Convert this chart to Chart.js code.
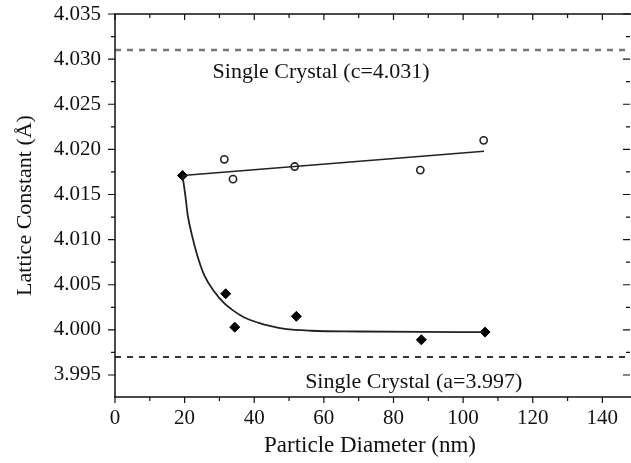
<!DOCTYPE html>
<html>
<head>
<meta charset="utf-8">
<script src="https://cdn.jsdelivr.net/npm/chart.js@4/dist/chart.umd.min.js"></script>
<style>
  html, body { margin: 0; padding: 0; background: #fff; overflow: hidden; }
  #wrap { width: 631px; height: 463px; }
  canvas { display: block; }
</style>
</head>
<body>
<div id="wrap"><canvas id="c" width="631" height="463"></canvas></div>
<script>
// measured points (particle diameter nm, lattice constant Å)
const cDiam = [31.4, 33.9, 51.6, 87.7, 105.9];
const cVals = [4.0189, 4.0167, 4.0181, 4.0177, 4.0210];
const aDiam = [19.4, 31.8, 34.4, 52.1, 88.0, 106.3];
const aVals = [4.0171, 4.0040, 4.0003, 4.0015, 3.9989, 3.99975];

// fitted lines
const cFitDiam = [19.4, 106];
const cFitVals = [4.0171, 4.0198];
const aFitDiam = [19.4, 20.2, 20.9, 22.1, 23.6, 25.7, 28.6, 31.5, 33.4, 37.0, 41.1, 44.8, 48.8, 56.4, 70, 88, 106];
const aFitVals = [4.0171, 4.0149, 4.0127, 4.0105, 4.0083, 4.0060, 4.0042, 4.0029, 4.0023, 4.0014, 4.0008, 4.0004, 4.0001, 3.9999, 3.99982, 3.99977, 3.99975];

// single crystal references
const cSingle = 4.031;
const aSingle = 3.997;

// axis ticks
const xTicks = [0, 20, 40, 60, 80, 100, 120, 140];
const xMinor = [10, 30, 50, 70, 90, 110, 130];
const yTicks = [3.995, 4.000, 4.005, 4.010, 4.015, 4.020, 4.025, 4.030, 4.035];
const yMinor = [3.9975, 4.0025, 4.0075, 4.0125, 4.0175, 4.0225, 4.0275, 4.0325];

const xMax = 146.5;
const lineEnd = 148.5; // dashed lines run on to the picture edge
const serif = "'Liberation Serif', 'DejaVu Serif', serif";

const pts = (xs, ys) => xs.map((x, i) => ({ x: x, y: ys[i] }));

// frame, ticks and text labels
const framePlugin = {
  id: 'frame',
  afterDraw(chart) {
    const ctx = chart.ctx;
    const xs = chart.scales.x, ys = chart.scales.y;
    const a = chart.chartArea;
    const right = 630;
    ctx.save();
    ctx.strokeStyle = '#111';
    ctx.lineWidth = 1.5;
    ctx.beginPath();
    ctx.moveTo(a.left, a.top); ctx.lineTo(a.left, a.bottom);
    ctx.moveTo(a.left - 1, a.bottom); ctx.lineTo(chart.width, a.bottom);
    ctx.moveTo(a.left - 1, a.top); ctx.lineTo(chart.width, a.top);
    ctx.stroke();

    ctx.lineWidth = 1.2;
    ctx.beginPath();
    const tx = (v, len) => {
      const p = xs.getPixelForValue(v);
      ctx.moveTo(p, a.bottom); ctx.lineTo(p, a.bottom + len);
      ctx.moveTo(p, a.top); ctx.lineTo(p, a.top + len);
    };
    const ty = (v, len) => {
      const p = ys.getPixelForValue(v);
      ctx.moveTo(a.left - len, p); ctx.lineTo(a.left, p);
      ctx.moveTo(right - len, p); ctx.lineTo(right, p);
    };
    xTicks.forEach(v => tx(v, 6));
    xMinor.forEach(v => tx(v, 4));
    yTicks.forEach(v => ty(v, 7));
    yMinor.forEach(v => ty(v, 4));
    ctx.stroke();

    ctx.fillStyle = '#111';
    ctx.font = '22px ' + serif;
    ctx.textAlign = 'center';
    ctx.textBaseline = 'middle';
    ctx.fillText('Single Crystal (c=4.031)', xs.getPixelForValue(59.2), ys.getPixelForValue(4.0286));
    ctx.fillText('Single Crystal (a=3.997)', xs.getPixelForValue(85.8), ys.getPixelForValue(3.9942));
    ctx.restore();
  }
};

const dashClip = { left: 0, top: 2, right: 8, bottom: 2 };

new Chart(document.getElementById('c'), {
  type: 'scatter',
  data: {
    datasets: [
      {
        data: [{ x: 0, y: cSingle }, { x: lineEnd, y: cSingle }],
        showLine: true, borderColor: '#777', borderWidth: 2.5, borderDash: [6, 6],
        pointRadius: 0, clip: dashClip
      },
      {
        data: [{ x: 0, y: aSingle }, { x: lineEnd, y: aSingle }],
        showLine: true, borderColor: '#333', borderWidth: 2, borderDash: [6, 6],
        pointRadius: 0, clip: dashClip
      },
      {
        data: pts(cFitDiam, cFitVals),
        showLine: true, borderColor: '#222', borderWidth: 1.5, pointRadius: 0
      },
      {
        data: pts(aFitDiam, aFitVals),
        showLine: true, borderColor: '#222', borderWidth: 1.8, pointRadius: 0,
        cubicInterpolationMode: 'monotone'
      },
      {
        data: pts(cDiam, cVals),
        pointStyle: 'circle', pointRadius: 3.6, borderWidth: 1.6,
        borderColor: '#222', backgroundColor: '#fff'
      },
      {
        data: pts(aDiam, aVals),
        pointStyle: 'rectRot', pointRadius: 5, borderWidth: 1,
        borderColor: '#000', backgroundColor: '#000'
      }
    ]
  },
  options: {
    responsive: false,
    animation: false,
    devicePixelRatio: 1,
    layout: { padding: { top: 14, right: 0, bottom: 0, left: 0 } },
    plugins: { legend: { display: false }, tooltip: { enabled: false } },
    scales: {
      x: {
        type: 'linear', min: 0, max: xMax,
        afterBuildTicks: s => { s.ticks = xTicks.map(v => ({ value: v })); },
        afterFit: s => { s.height = 66; s.paddingLeft = 0; s.paddingRight = 0; },
        grid: { display: false, drawTicks: false },
        border: { display: false },
        ticks: { color: '#111', font: { family: serif, size: 21 }, padding: 9, maxRotation: 0 },
        title: { display: true, text: 'Particle Diameter (nm)', color: '#111',
                 font: { family: serif, size: 23 }, padding: { top: 0, bottom: 3 } }
      },
      y: {
        type: 'linear', min: 3.99256, max: 4.035,
        afterBuildTicks: s => { s.ticks = yTicks.map(v => ({ value: v })); },
        afterFit: s => { s.width = 115; s.paddingTop = 0; s.paddingBottom = 0; },
        grid: { display: false, drawTicks: false },
        border: { display: false },
        ticks: { color: '#111', font: { family: serif, size: 21 }, padding: 14,
                 callback: v => v.toFixed(3) },
        title: { display: true, text: 'Lattice Constant (Å)', color: '#111',
                 font: { family: serif, size: 22 }, padding: { top: 12, bottom: 0 } }
      }
    }
  },
  plugins: [framePlugin]
});
</script>
</body>
</html>
